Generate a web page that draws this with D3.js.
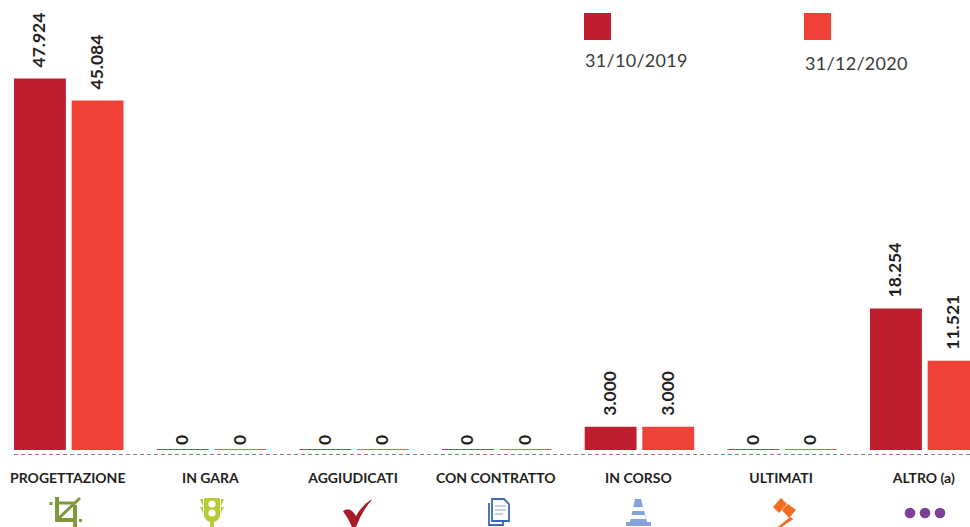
<!DOCTYPE html>
<html>
<head>
<meta charset="utf-8">
<script src="https://cdn.jsdelivr.net/npm/d3@7"></script>
<style>
  html, body { margin: 0; padding: 0; background: #fff; overflow: hidden; }
  svg { display: block; }
  text { font-family: Lato, "Open Sans", sans-serif; fill: #231f20; }
  .value { font-size: 17.5px; font-weight: 700; }
  .cat { font-size: 14px; font-weight: 700; }
  .legend-label { font-size: 18px; letter-spacing: .3px; fill: #3a3a3a; }
</style>
</head>
<body>
<div class="chart"></div>
<script>
var categories = ['PROGETTAZIONE', 'IN GARA', 'AGGIUDICATI', 'CON CONTRATTO', 'IN CORSO', 'ULTIMATI', 'ALTRO (a)'];
var seriesNames = ['31/10/2019', '31/12/2020'];
var values2019 = [47924, 0, 0, 0, 3000, 0, 18254];
var values2020 = [45084, 0, 0, 0, 3000, 0, 11521];
var colors = ['#be1e2d', '#ef4136'];

var width = 970,
    height = 527,
    baseline = 450;

var svg = d3.select('.chart').append('svg')
    .attr('width', width)
    .attr('height', height);

var x0 = d3.scaleBand().domain(categories).range([14, 979.5]).paddingInner(0.2325).paddingOuter(0);
var x1 = d3.scaleBand().domain([0, 1]).range([0, x0.bandwidth()]).paddingInner(0.1);
var y = d3.scaleLinear().domain([0, 47924]).range([baseline, 78.5]);

var fmt = d3.format(',');
function label(v) { return fmt(v).replace(/,/g, '.'); }

// gruppi
var groups = svg.selectAll('g.group')
    .data(categories)
    .enter()
    .append('g')
    .attr('class', 'group')
    .attr('transform', function(d) { return 'translate(' + x0(d) + ', 0)'; });

[values2019, values2020].forEach(function(values, s) {
    groups.append('rect')
        .attr('x', x1(s))
        .attr('width', x1.bandwidth())
        .attr('y', function(d, i) { return values[i] ? y(values[i]) : baseline - 1; })
        .attr('height', function(d, i) { return values[i] ? baseline - y(values[i]) : 1; })
        .attr('fill', colors[s])
        .attr('opacity', function(d, i) { return values[i] ? 1 : 0.85; });

    groups.append('text')
        .attr('class', 'value')
        .attr('transform', function(d, i) {
            var top = values[i] ? y(values[i]) - 11 : baseline - 5;
            return 'translate(' + (x1(s) + x1.bandwidth() / 2 + 5.5) + ', ' + top + ') rotate(-90)';
        })
        .text(function(d, i) { return label(values[i]); });
});

// linea tratteggiata
svg.append('line')
    .attr('x1', 14).attr('x2', width)
    .attr('y1', 454.5).attr('y2', 454.5)
    .attr('stroke', '#808285')
    .attr('stroke-width', 1.2)
    .attr('stroke-dasharray', '4 3');

// etichette categorie
groups.append('text')
    .attr('class', 'cat')
    .attr('x', x0.bandwidth() / 2 - 1)
    .attr('y', 483)
    .attr('text-anchor', 'middle')
    .text(function(d) { return d; });

// legenda
var legendX = [584, 804], legendTextY = [67, 70];
seriesNames.forEach(function(name, i) {
    svg.append('rect')
        .attr('x', legendX[i]).attr('y', 13)
        .attr('width', 27).attr('height', 27)
        .attr('fill', colors[i]);
    svg.append('text')
        .attr('class', 'legend-label')
        .attr('x', legendX[i] + 1).attr('y', legendTextY[i])
        .text(name);
});

// icone
var icons = svg.append('g').attr('class', 'icons');

var crop = icons.append('g').attr('fill', 'none').attr('stroke', '#7f9a3a').attr('stroke-width', 4);
crop.append('path').attr('d', 'M57 497V520H73');
crop.append('path').attr('d', 'M75 505V527');
crop.append('path').attr('d', 'M57 520L80 498').attr('stroke-width', 3);
crop.append('path').attr('d', 'M59 503H74').attr('stroke-width', 3);
icons.append('rect').attr('x', 49.5).attr('y', 502).attr('width', 3).attr('height', 3).attr('fill', '#7f9a3a');
icons.append('rect').attr('x', 79).attr('y', 519).attr('width', 3).attr('height', 3).attr('fill', '#7f9a3a');

var light = icons.append('g').attr('fill', '#b5cc34');
light.append('path').attr('d', 'M205 498H219Q220 498 220 500V516Q218 521 214 522V527H210V522Q206 521 204 516V500Q204 498 205 498Z');
light.append('path').attr('d', 'M200 499H203V506ZM224 499H221V506ZM200 507H203V513ZM224 507H221V513Z');
light.append('circle').attr('cx', 212).attr('cy', 504).attr('r', 3.6).attr('fill', '#fff');
light.append('circle').attr('cx', 212).attr('cy', 513).attr('r', 3.6).attr('fill', '#fff');

icons.append('path')
    .attr('fill', '#a51c24')
    .attr('d', 'M343 511Q349 507 353 512L356 516Q362 505 372 499L371 501Q362 511 356 527L352 527Q348 518 343 511Z');

var doc = icons.append('g').attr('fill', '#fff').attr('stroke', '#3f66b5').attr('stroke-width', 1.8);
doc.append('path').attr('d', 'M489 503V525H503V521');
doc.append('path').attr('d', 'M492 499H504L509 504V521H492Z');
doc.append('path').attr('d', 'M495 506H506M495 510H506M495 514H503').attr('stroke-width', 1.2).attr('stroke', '#85a3d8');

var cone = icons.append('g');
cone.append('path').attr('fill', '#85a3d8')
    .attr('d', 'M635 499H641L647 522H651V526H626V522H630Z');
cone.append('path').attr('fill', '#fff').attr('d', 'M633 507H643L644 511H632ZM631 515H645L646 519H630Z');

var gavel = icons.append('g').attr('fill', '#f26c21');
gavel.append('path').attr('d', 'M773 507L781 498L787 504L779 513Z');
gavel.append('path').attr('d', 'M782 510L788 504L796 510L789 518Z');
gavel.append('path').attr('d', 'M790 518L779 527L780 527L792 519Z').attr('stroke', '#f26c21').attr('stroke-width', 1.5);

icons.selectAll('circle.dot')
    .data([910, 925, 940])
    .enter()
    .append('circle')
    .attr('class', 'dot')
    .attr('cx', function(d) { return d; })
    .attr('cy', 513)
    .attr('r', 5.3)
    .attr('fill', '#7f3f98');
</script>
</body>
</html>
